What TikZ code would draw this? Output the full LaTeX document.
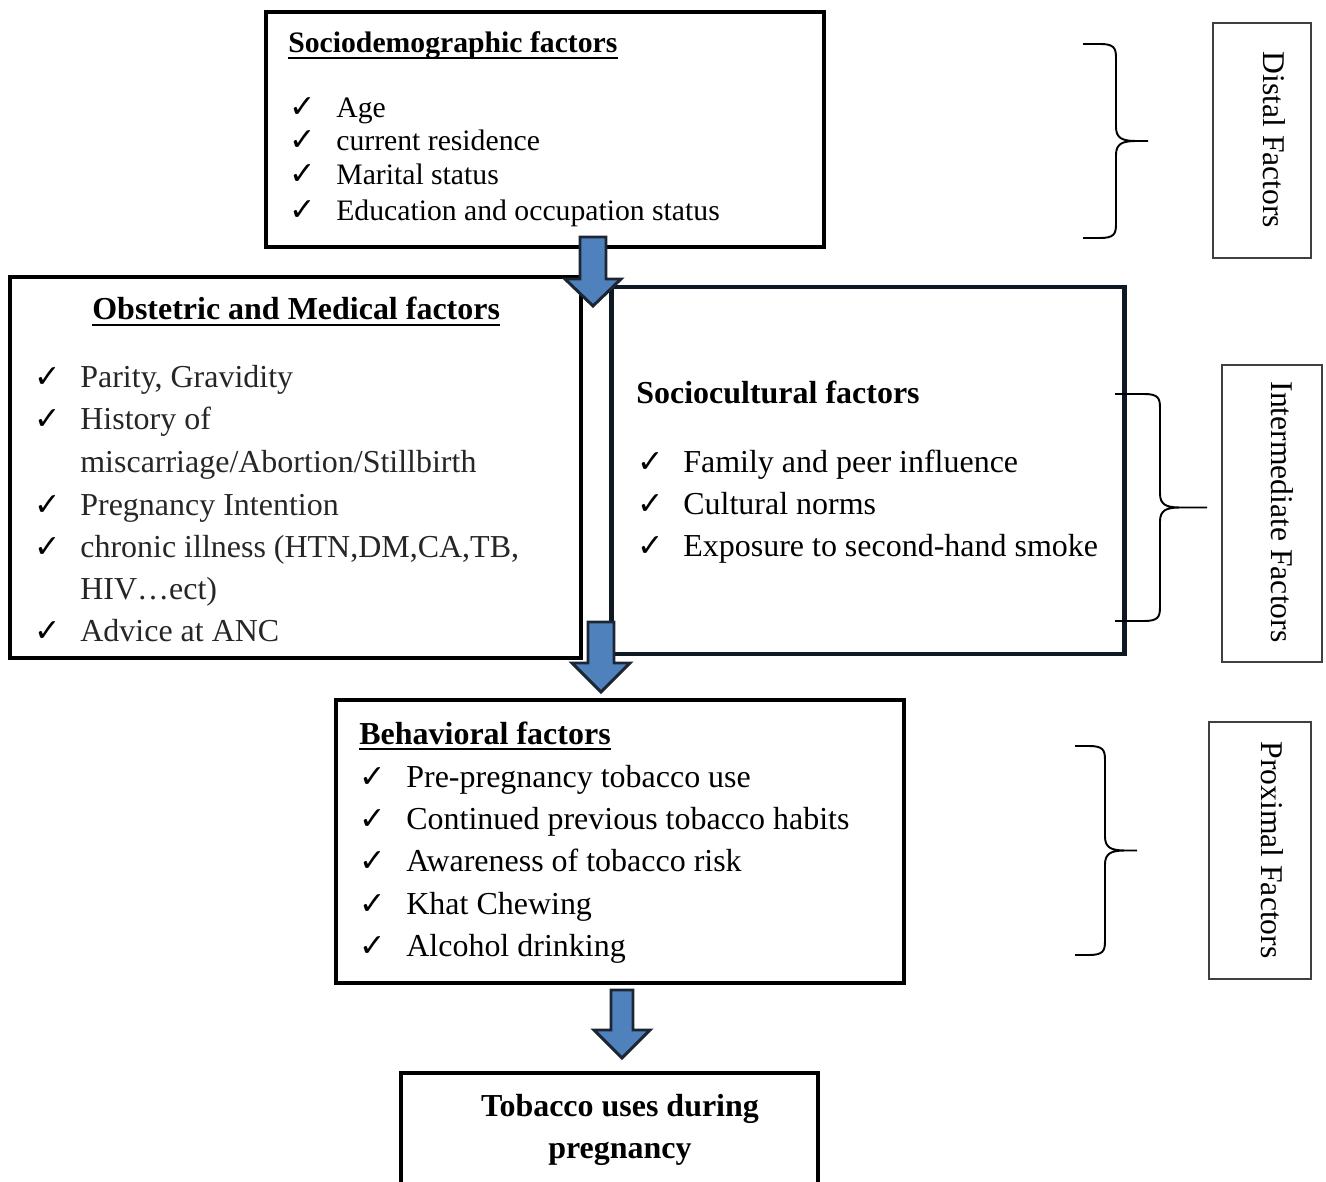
\documentclass[tikz,border=0pt]{standalone}
\usepackage{fontspec}
\setmainfont{Liberation Serif}
\newfontfamily\checkfont{DejaVu Sans}
\usepackage{xcolor}
\usepackage{tikz}
\usetikzlibrary{calc}

\definecolor{arrowblue}{HTML}{4F81BD}
\definecolor{arrowedge}{HTML}{1C2633}
\definecolor{boxnavy}{HTML}{0F1923}
\definecolor{sidegray}{HTML}{404040}

% block arrow: x, top, head start, tip, shaft half width, head half width
\newcommand{\blockarrow}[6]{%
  \draw[flowarrow] ({#1-#5},#2) -- ({#1+#5},#2) -- ({#1+#5},#3) -- ({#1+#6},#3)
    -- (#1,#4) -- ({#1-#6},#3) -- ({#1-#5},#3) -- cycle;}

% right brace: x of ends, x of spine, x of tip, top, bottom
\newcommand{\sidebrace}[5]{%
  \pgfmathsetmacro{\ymid}{(#4+#5)/2}
  \draw[bracepath] (#1,#4) -- ({#2-16},#4) .. controls ({#2-2},#4) and (#2,{#4+4}) .. (#2,{#4+14})
    -- (#2,{\ymid-14}) .. controls (#2,{\ymid-3}) and ({#2+6},\ymid) .. ({#2+20},\ymid) -- (#3,\ymid)
    -- ({#2+20},\ymid) .. controls ({#2+6},\ymid) and (#2,{\ymid+3}) .. (#2,{\ymid+14})
    -- (#2,{#5-14}) .. controls (#2,{#5-4}) and ({#2-2},#5) .. ({#2-16},#5) -- (#1,#5);}

% rule under a heading node
\newcommand{\underhead}[1]{%
  \draw[line width=1.1pt] ($(#1.base west)+(0,5)$) -- ($(#1.base east)+(0,5)$);}

\begin{document}
\begin{tikzpicture}[x=0.02cm, y=-0.02cm,
    factorbox/.style={draw, line width=2.3pt, inner sep=0pt},
    sidebox/.style={draw=sidegray, line width=0.8pt, inner sep=0pt},
    smalltxt/.style={inner sep=0pt, anchor=base west, font=\fontsize{16.9}{19}\selectfont},
    bigtxt/.style={inner sep=0pt, anchor=base west, font=\fontsize{18.2}{24}\selectfont},
    tick/.style={inner sep=0pt, anchor=base west, font=\checkfont\bfseries\fontsize{18}{20}\selectfont},
    sidelabel/.style={inner sep=0pt, rotate=-90, font=\fontsize{18}{24}\selectfont},
    flowarrow/.style={draw=arrowedge, fill=arrowblue, line width=1.7pt, line join=miter},
    bracepath/.style={line width=1.1pt}]
    \useasboundingbox (0,0) rectangle (1326,1182);

    % Factor boxes
    \node[factorbox, minimum width=11.16cm, minimum height=4.7cm] (socdem) at (545,129.5) {};
    \node[factorbox, line width=2.5pt, minimum width=11.42cm, minimum height=7.62cm] (obst) at (295.5,467.5) {};
    \node[factorbox, draw=boxnavy, line width=2.8pt, minimum width=10.28cm, minimum height=7.34cm] (soccult) at (868,470.5) {};
    \node[factorbox, minimum width=11.36cm, minimum height=5.66cm] (behav) at (620,841.5) {};
    \node[factorbox, minimum width=8.34cm, minimum height=2.74cm] (outcome) at (609.5,1141.5) {};

    % Sociodemographic factors
    \node[smalltxt, font=\fontsize{16.9}{19}\selectfont\bfseries] (socdemhead) at (288,53) {Sociodemographic factors};
    \underhead{socdemhead}
    \foreach \y/\txt in {118/Age, 151/current residence, 185/Marital status, 221/Education and occupation status} {
        \node[tick] (socdemtick\y) at (289,\y) {✓};
        \node[smalltxt] (socdemitem\y) at (336,\y) {\txt};
    }

    % Obstetric and Medical factors
    \node[bigtxt, font=\fontsize{18.2}{24}\selectfont\bfseries] (obsthead) at (92,320) {Obstetric and Medical factors};
    \underhead{obsthead}
    \foreach \y/\txt in {388/{Parity, Gravidity}, 430/History of, 516/Pregnancy Intention, 558/{chronic illness (HTN,DM,CA,TB,}, 642/Advice at ANC} {
        \node[tick] (obsttick\y) at (34,\y) {✓};
        \node[bigtxt, text=black!85] (obstitem\y) at (80,\y) {\txt};
    }
    \node[bigtxt, text=black!85] (obstitem473) at (80,473) {miscarriage/Abortion/Stillbirth};
    \node[bigtxt, text=black!85] (obstitem600) at (80,600) {HIV…ect)};

    % Sociocultural factors
    \node[bigtxt, font=\fontsize{18.2}{24}\selectfont\bfseries] (socculthead) at (636,404) {Sociocultural factors};
    \foreach \y/\txt in {473/Family and peer influence, 515/Cultural norms, 557/Exposure to second-hand smoke} {
        \node[tick] (soccultick\y) at (637,\y) {✓};
        \node[bigtxt] (soccultitem\y) at (683,\y) {\txt};
    }

    % Behavioral factors
    \node[bigtxt, font=\fontsize{18.2}{24}\selectfont\bfseries] (behavhead) at (359,744) {Behavioral factors};
    \underhead{behavhead}
    \foreach \y/\txt in {787/Pre-pregnancy tobacco use, 829/Continued previous tobacco habits, 871/Awareness of tobacco risk, 914/Khat Chewing, 956/Alcohol drinking} {
        \node[tick] (behavtick\y) at (359,\y) {✓};
        \node[bigtxt] (behavitem\y) at (406,\y) {\txt};
    }

    % Outcome
    \node[bigtxt, anchor=base, font=\fontsize{18.2}{24}\selectfont\bfseries] (outcometop) at (620,1116) {Tobacco uses during};
    \node[bigtxt, anchor=base, font=\fontsize{18.2}{24}\selectfont\bfseries] (outcomebot) at (620,1158) {pregnancy};

    % Arrows between levels
    \blockarrow{593}{237}{279}{306}{13}{28}
    \blockarrow{601}{622}{663}{692}{13}{29}
    \blockarrow{622}{990}{1030}{1058}{11}{28}

    % Braces and level labels
    \sidebrace{1083}{1116}{1148}{44}{238}
    \sidebrace{1115}{1160}{1207}{394}{621}
    \sidebrace{1075}{1105}{1137}{746}{955}

    \node[sidebox, minimum width=1.96cm, minimum height=4.7cm] (distalbox) at (1262,140.5) {};
    \node[sidebox, minimum width=2.0cm, minimum height=5.94cm] (interbox) at (1272,513.5) {};
    \node[sidebox, minimum width=2.04cm, minimum height=5.14cm] (proxbox) at (1260,850.5) {};
    \node[sidelabel] (distal) at (1274,140) {Distal Factors};
    \node[sidelabel] (inter) at (1282,512) {Intermediate Factors};
    \node[sidelabel] (prox) at (1272,850) {Proximal Factors};
\end{tikzpicture}
\end{document}
